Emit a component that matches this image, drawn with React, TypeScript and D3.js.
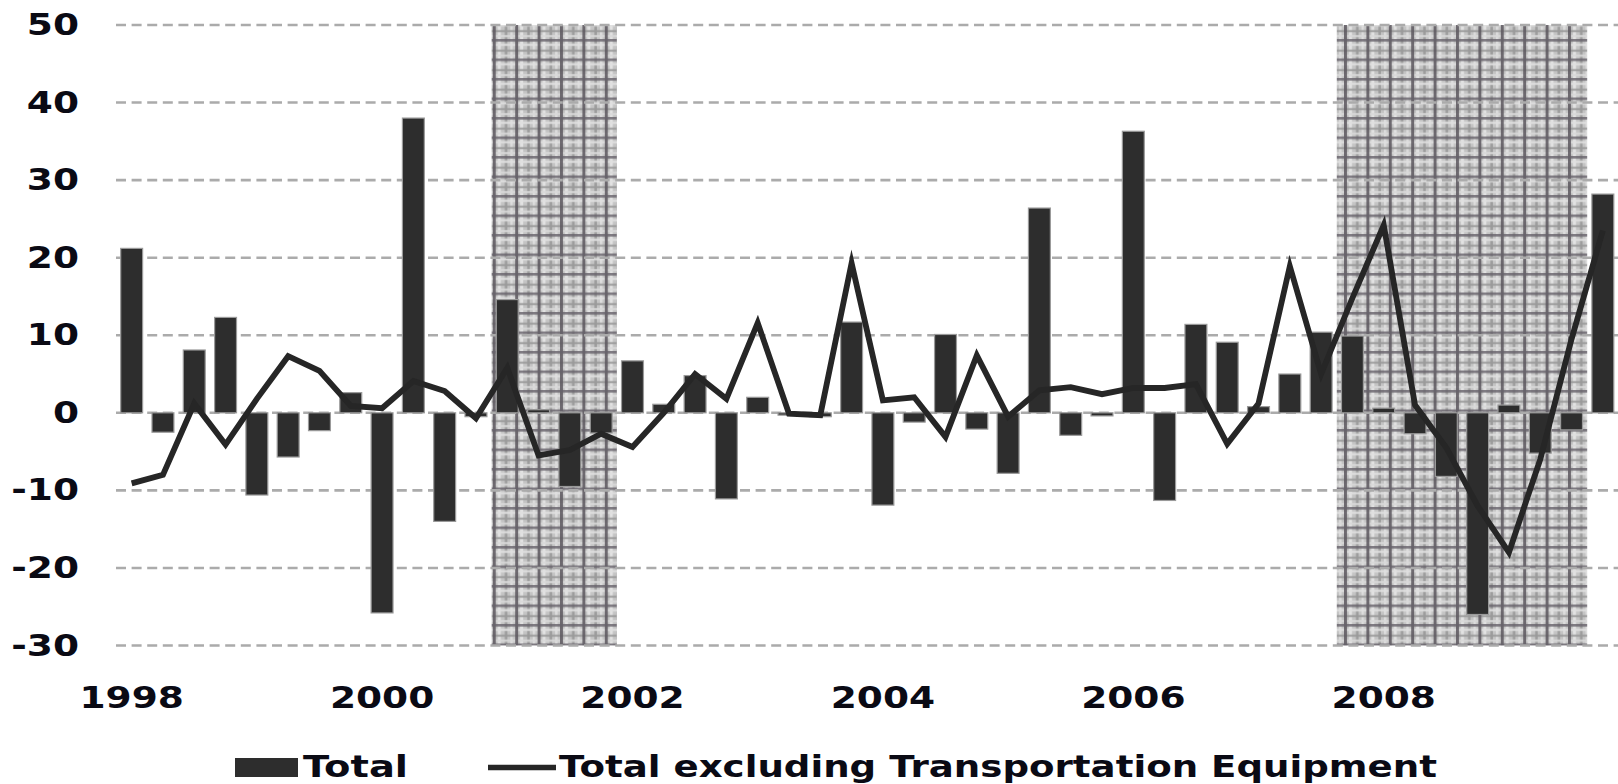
import React from "react";
import * as d3 from "d3";

const quarters: string[] = [];
for (let y = 1998; y <= 2009; y++) for (let q = 1; q <= 4; q++) quarters.push(`${y}Q${q}`);

const totalValues = [
  21.2, -2.5, 8.1, 12.3, -10.6, -5.7, -2.3, 2.6,
  -25.8, 38.0, -14.0, -0.5, 14.6, 0.4, -9.5, -2.6,
  6.7, 1.1, 4.8, -11.1, 2.0, -0.3, -0.5, 11.7,
  -11.9, -1.2, 10.1, -2.1, -7.8, 26.4, -2.9, -0.4,
  36.3, -11.3, 11.4, 9.1, 0.8, 5.0, 10.4, 9.9,
  0.6, -2.7, -8.2, -26.0, 1.0, -5.2, -2.2, 28.2,
];

const exTransportValues = [
  -9.1, -8.0, 1.2, -4.1, 1.8, 7.3, 5.4, 0.9,
  0.6, 4.1, 2.8, -0.7, 5.8, -5.5, -4.8, -2.7,
  -4.4, 0.0, 5.0, 1.8, 11.6, -0.1, -0.3, 19.3,
  1.6, 2.0, -3.1, 7.4, -0.5, 2.9, 3.3, 2.4,
  3.2, 3.2, 3.7, -4.0, 1.2, 18.9, 5.0, 14.8,
  24.2, 1.0, -4.5, -12.0, -18.0, -6.0, 9.5, 23.5,
];

const yTicks = [50, 40, 30, 20, 10, 0, -10, -20, -30];
const xTickQuarters = ["1998Q1", "2000Q1", "2002Q1", "2004Q1", "2006Q1", "2008Q1"];
const xTickLabels = ["1998", "2000", "2002", "2004", "2006", "2008"];
const recessions: [string, string][] = [
  ["2001Q1", "2001Q4"],
  ["2007Q4", "2009Q3"],
];
const legendLabels = ["Total", "Total excluding Transportation Equipment"];

const W = 1618;
const H = 784;
const FONT = "'DejaVu Sans', Verdana, sans-serif";
const DARK = "#2d2d2d";

export default function App() {
  const x = d3
    .scaleBand<string>()
    .domain(quarters)
    .range([116, 1618.5])
    .paddingInner(0.3)
    .paddingOuter(0.15);
  const y = d3.scaleLinear().domain([-30, 50]).range([645.5, 25]);
  const step = x.step();
  const cx = (q: string) => (x(q) as number) + x.bandwidth() / 2;

  const line = d3
    .line<number>()
    .x((_, i) => cx(quarters[i]))
    .y((d) => y(d));

  return (
    <svg
      width={W}
      height={H}
      style={{ position: "absolute", left: 0, top: 0, background: "#fff" }}
    >
      <defs>
        <pattern id="plaid" width={22.4} height={19.5} patternUnits="userSpaceOnUse">
          <rect width={22.4} height={19.5} fill="#c4c4c4" />
          <rect x={5} y={0} width={3} height={19.5} fill="#e2e2e2" />
          <rect x={12} y={0} width={2.5} height={19.5} fill="#9c9c9c" />
          <rect x={17.5} y={0} width={2.5} height={19.5} fill="#dcdcdc" />
          <rect x={0} y={4.5} width={22.4} height={2.5} fill="#e0e0e0" opacity={0.85} />
          <rect x={0} y={10.5} width={22.4} height={2.3} fill="#9a9a9a" opacity={0.85} />
          <rect x={0} y={15.5} width={22.4} height={2.3} fill="#d8d8d8" opacity={0.85} />
          <rect x={0} y={0} width={3} height={19.5} fill="#5c575e" opacity={0.85} />
          <rect x={0} y={0} width={22.4} height={2.6} fill="#66616a" opacity={0.8} />
        </pattern>
      </defs>

      {recessions.map(([a, b], i) => {
        const x0 = (x(a) as number) - (step - x.bandwidth()) / 2;
        const x1 = (x(b) as number) + x.bandwidth() + (step - x.bandwidth()) / 2;
        return (
          <rect
            key={i}
            x={x0}
            y={y(50)}
            width={x1 - x0}
            height={y(-30) - y(50)}
            fill="url(#plaid)"
          />
        );
      })}

      {yTicks.map((t) => (
        <line
          key={t}
          x1={116}
          x2={W}
          y1={y(t)}
          y2={y(t)}
          stroke="#ababab"
          strokeWidth={2.6}
          strokeDasharray="10,5.6"
        />
      ))}

      {totalValues.map((v, i) => (
        <rect
          key={i}
          x={x(quarters[i])}
          y={y(Math.max(0, v))}
          width={x.bandwidth()}
          height={Math.abs(y(v) - y(0))}
          fill={DARK}
          stroke="#9a9a9a"
          strokeWidth={1.2}
        />
      ))}

      <path
        d={line(exTransportValues) || ""}
        fill="none"
        stroke="#262626"
        strokeWidth={5.8}
        strokeLinejoin="miter"
        strokeMiterlimit={10}
      />

      {yTicks.map((t) => (
        <text
          key={t}
          transform={`translate(79,${y(t) + 10}) scale(1.25,1)`}
          textAnchor="end"
          fontFamily={FONT}
          fontWeight="bold"
          fontSize={30}
          fill="#0a0a14"
        >
          {t}
        </text>
      ))}

      {xTickQuarters.map((q, i) => (
        <text
          key={q}
          transform={`translate(${cx(q)},708) scale(1.25,1)`}
          textAnchor="middle"
          fontFamily={FONT}
          fontWeight="bold"
          fontSize={30}
          fill="#0a0a14"
        >
          {xTickLabels[i]}
        </text>
      ))}

      <g>
        <rect x={235} y={758} width={63} height={19} fill={DARK} />
        <text
          x={303}
          y={777}
          fontFamily={FONT}
          fontWeight="bold"
          fontSize={30}
          fill="#0a0a14"
          textLength={105}
          lengthAdjust="spacingAndGlyphs"
        >
          {legendLabels[0]}
        </text>
        <line x1={488} x2={556} y1={767.5} y2={767.5} stroke="#262626" strokeWidth={5.5} />
        <text
          x={559}
          y={777}
          fontFamily={FONT}
          fontWeight="bold"
          fontSize={30}
          fill="#0a0a14"
          textLength={878}
          lengthAdjust="spacingAndGlyphs"
        >
          {legendLabels[1]}
        </text>
      </g>
    </svg>
  );
}
